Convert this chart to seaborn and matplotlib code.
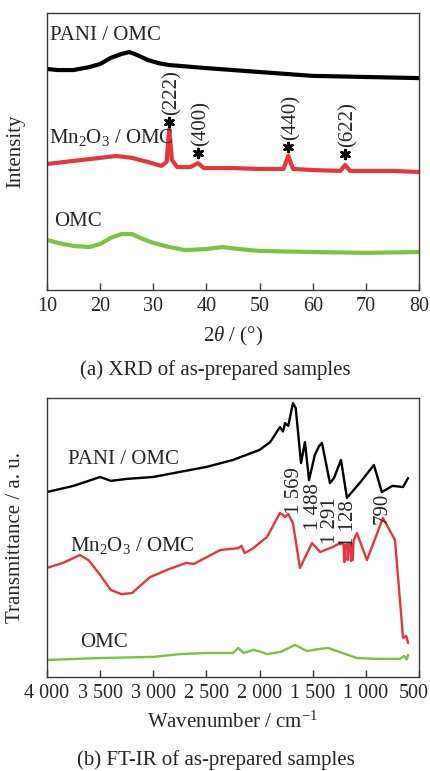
import numpy as np
import pandas as pd
import matplotlib
matplotlib.use("Agg")
import matplotlib.pyplot as plt
import matplotlib.transforms as mtransforms
import seaborn as sns

# ---------------- XRD data (2theta, relative intensity) ----------------
xrd_pani_x = [10, 12, 15, 18, 20, 22, 24, 25.5, 27, 29, 31, 33, 35, 40, 45, 50, 55, 60, 70, 80]
xrd_pani_y = [79.8, 79.4, 79.4, 80.5, 81.6, 83.8, 85.2, 85.9, 84.8, 83.0, 81.9, 81.2, 80.9, 80.1, 79.4, 78.7, 78.0, 77.3, 76.9, 76.5]

xrd_mn_x = [10, 15, 20, 23, 26, 29, 31.5, 32.5, 33.0, 33.5, 34.5, 37, 38.4, 39.5, 45, 50, 54.5, 55.4, 56.3, 60, 65.2, 66.1, 67, 75, 80]
xrd_mn_y = [45.5, 46.6, 47.7, 48.4, 47.7, 46.2, 44.8, 46.2, 58.1, 46.9, 44.4, 44.4, 45.8, 44.0, 44.0, 43.7, 43.7, 48.4, 43.7, 43.3, 43.0, 45.1, 43.0, 43.0, 42.6]

xrd_omc_x = [10, 12, 15, 18, 20, 22, 24, 26, 28, 30, 33, 36, 40, 43, 46, 50, 60, 70, 80]
xrd_omc_y = [18.1, 17.0, 15.9, 15.5, 16.6, 18.8, 20.2, 20.2, 18.4, 17.0, 15.5, 14.4, 14.8, 15.5, 14.8, 14.1, 13.7, 13.4, 13.7]

xrd_peak_pos = [33.0, 38.4, 55.4, 66.1]
xrd_star_y = [60.6, 49.5, 51.6, 49.1]
xrd_peak_labels = ["(222)", "(400)", "(440)", "(622)"]
xrd_ticks = [10, 20, 30, 40, 50, 60, 70, 80]

# ---------------- FT-IR data (wavenumber, relative transmittance) ----------------
ir_pani_x = [4000, 3750, 3500, 3400, 3250, 3000, 2750, 2500, 2250, 2000, 1900, 1808, 1780, 1760, 1730,
             1686, 1660, 1610, 1573, 1535, 1480, 1440, 1413, 1338, 1300, 1234, 1178, 1050, 924, 850, 750, 650, 603]
ir_pani_y = [66.3, 68.5, 71.7, 70.3, 71.0, 71.7, 73.5, 75.3, 77.8, 81.4, 84.2, 89.6, 88.0, 91.0, 90.0,
             98.2, 96.4, 76.7, 84.2, 70.6, 79.6, 82.8, 83.9, 69.5, 71.3, 77.8, 64.2, 69.9, 76.0, 66.3, 68.5, 68.1, 71.3]

ir_mn_x = [4000, 3850, 3690, 3610, 3500, 3400, 3300, 3200, 3030, 2850, 2690, 2620, 2550, 2370, 2200, 2170,
           2140, 2070, 1930, 1808, 1780, 1760, 1730, 1686, 1620, 1507, 1430, 1310, 1243, 1210, 1203, 1195,
           1175, 1171, 1160, 1145, 1140, 1132, 1124, 1115, 1084, 990, 839, 726, 650, 620, 603]
ir_mn_y = [39.1, 40.9, 43.7, 41.9, 36.6, 31.2, 29.7, 30.1, 35.8, 38.7, 40.9, 40.5, 41.9, 45.5, 46.2, 47.0,
           44.4, 45.9, 50.2, 58.8, 58.1, 57.3, 58.4, 55.2, 39.1, 48.0, 44.8, 46.6, 48.0, 47.5, 41.2, 47.3,
           47.5, 41.9, 47.5, 47.5, 41.6, 47.8, 41.9, 49.0, 51.6, 41.9, 57.0, 49.1, 14.0, 14.7, 12.2]

ir_omc_x = [4000, 3500, 3000, 2750, 2500, 2250, 2200, 2150, 2060, 2010, 1930, 1800, 1667, 1555, 1450,
            1356, 1250, 1085, 900, 680, 640, 615, 603]
ir_omc_y = [6.1, 6.8, 7.2, 8.2, 8.6, 8.6, 10.4, 8.6, 9.7, 9.3, 8.2, 9.0, 11.5, 9.3, 10.0,
            10.4, 9.0, 6.8, 6.5, 6.5, 7.5, 6.3, 7.9]

ir_peak_pos = [1667, 1497, 1328, 1159, 848]
ir_peak_top = [75.3, 69.5, 64.5, 63.4, 65.9]
ir_peak_labels = ["1 569", "1 488", "1 291", "1 128", "790"]
ir_ticks = [4000, 3500, 3000, 2500, 2000, 1500, 1000, 500]
ir_tick_labels = ["4 000", "3 500", "3 000", "2 500", "2 000", "1 500", "1 000", "500"]

sample_names = ["PANI / OMC", "Mn$_2$O$_3$ / OMC", "OMC"]
colors = ["#000000", "#e8343c", "#7cc243"]

# ---------------- style ----------------
sns.set_theme(style="white")
plt.rcParams['font.family'] = ['Liberation Serif', 'DejaVu Serif']
plt.rcParams['mathtext.fontset'] = 'custom'
plt.rcParams['mathtext.rm'] = 'Liberation Serif'
plt.rcParams['mathtext.it'] = 'Liberation Serif:italic'
FS = 15

fig = plt.figure(figsize=(4.31, 7.71), dpi=100)
ax1 = fig.add_axes([47 / 431, 1 - 290 / 771, 372 / 431, 277 / 771])
ax2 = fig.add_axes([47 / 431, 1 - 677 / 771, 372 / 431, 279 / 771])


def style_axes(ax):
    for s in ax.spines.values():
        s.set_color("#3a3a3a")
        s.set_linewidth(1.0)
    ax.tick_params(axis='x', direction='in', length=5, width=1, color="#3a3a3a",
                   labelsize=FS - 0.5, pad=5, bottom=True, top=False)
    ax.tick_params(axis='y', left=False, right=False, labelleft=False)


# ---------------- XRD panel ----------------
xrd_sets = [(xrd_pani_x, xrd_pani_y), (xrd_mn_x, xrd_mn_y), (xrd_omc_x, xrd_omc_y)]
for (xs, ys), c in zip(xrd_sets, colors):
    df = pd.DataFrame({"x": xs, "y": ys})
    sns.lineplot(data=df, x="x", y="y", ax=ax1, color=c, lw=3.0, sort=False)

ax1.set_xlim(10, 80)
ax1.set_ylim(0, 100)
ax1.set_xticks(xrd_ticks)
ax1.set_xticklabels([str(t) for t in xrd_ticks])
style_axes(ax1)
ax1.set_xlabel("2$\\it{\\theta}$ / (°)", fontsize=FS)
ax1.xaxis.set_label_coords(0.5, -0.125)
ax1.set_ylabel("Intensity", fontsize=FS)
ax1.yaxis.set_label_coords(-0.058, 0.5)

ax1.text(10.55, 92.0, sample_names[0], fontsize=FS, va='center', ha='left')
ax1.text(10.4, 55.2, sample_names[1], fontsize=FS, va='center', ha='left')
ax1.text(11.3, 24.9, sample_names[2], fontsize=FS, va='center', ha='left')

ax1.scatter(xrd_peak_pos, xrd_star_y, marker=(6, 2, 0), s=40, color='black', linewidths=2.0, zorder=5)
for px, sy, lab in zip(xrd_peak_pos, xrd_star_y, xrd_peak_labels):
    ax1.text(px + 0.5, sy + 2.5, lab, rotation=90, fontsize=FS, ha='center', va='bottom')

# ---------------- FT-IR panel ----------------
ir_sets = [(ir_pani_x, ir_pani_y), (ir_mn_x, ir_mn_y), (ir_omc_x, ir_omc_y)]
for (xs, ys), c in zip(ir_sets, colors):
    df = pd.DataFrame({"x": xs, "y": ys})
    sns.lineplot(data=df, x="x", y="y", ax=ax2, color=c, lw=1.7, sort=False)

ax2.set_xlim(4000, 500)
ax2.set_ylim(0, 100)
ax2.set_xticks(ir_ticks)
ax2.set_xticklabels(ir_tick_labels)
style_axes(ax2)
# keep the last tick label inside the figure
last = ax2.get_xticklabels()[-1]
last.set_transform(last.get_transform() + mtransforms.ScaledTranslation(-5 / 100, 0, fig.dpi_scale_trans))
ax2.set_xlabel("Wavenumber / cm$^{-1}$", fontsize=FS)
ax2.xaxis.set_label_coords(0.5, -0.125)
ax2.set_ylabel("Transmittance / a. u.", fontsize=FS)
ax2.yaxis.set_label_coords(-0.058, 0.5)

ax2.text(3802, 77.8, sample_names[0], fontsize=FS, va='center', ha='left')
ax2.text(3784, 47.3, sample_names[1], fontsize=FS, va='center', ha='left')
ax2.text(3690, 12.5, sample_names[2], fontsize=FS, va='center', ha='left')

for px, top, lab in zip(ir_peak_pos, ir_peak_top, ir_peak_labels):
    ax2.text(px, top, lab, rotation=90, fontsize=FS, ha='center', va='top')

# ---------------- captions ----------------
fig.text(0.5, 1 - 370 / 771, "(a) XRD of as-prepared samples", fontsize=FS, ha='center', va='center')
fig.text(0.5, 1 - 760 / 771, "(b) FT-IR of as-prepared samples", fontsize=FS, ha='center', va='center')

fig.savefig("out.png", dpi=100)
